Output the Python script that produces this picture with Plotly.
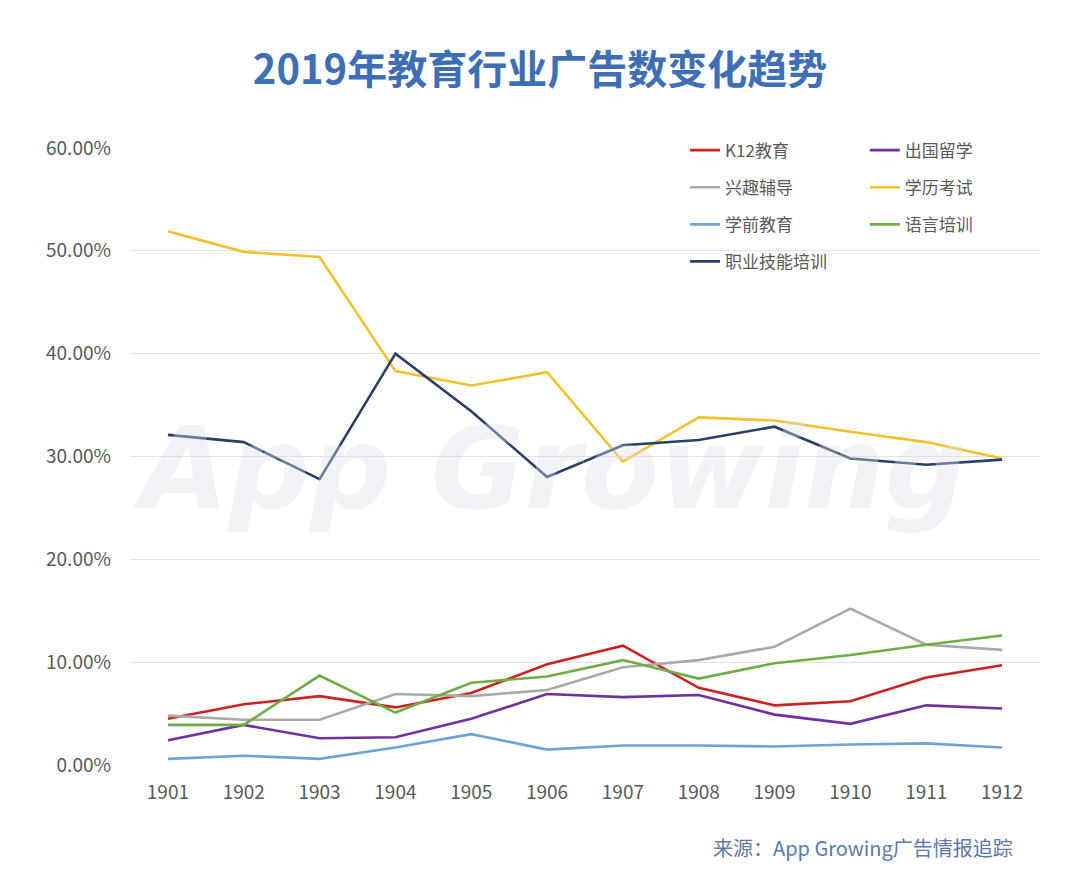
import plotly.graph_objects as go

# ---- data (percent of ads) ----
months = ["1901", "1902", "1903", "1904", "1905", "1906",
          "1907", "1908", "1909", "1910", "1911", "1912"]

k12 = [4.5, 5.9, 6.7, 5.6, 7.0, 9.8, 11.6, 7.5, 5.8, 6.2, 8.5, 9.7]
abroad = [2.4, 3.9, 2.6, 2.7, 4.5, 6.9, 6.6, 6.8, 4.9, 4.0, 5.8, 5.5]
hobby = [4.8, 4.4, 4.4, 6.9, 6.7, 7.3, 9.5, 10.2, 11.5, 15.2, 11.7, 11.2]
degree = [51.9, 49.9, 49.4, 38.3, 36.9, 38.2, 29.5, 33.8, 33.5, 32.4, 31.4, 29.8]
preschool = [0.6, 0.9, 0.6, 1.7, 3.0, 1.5, 1.9, 1.9, 1.8, 2.0, 2.1, 1.7]
language = [3.9, 3.9, 8.7, 5.1, 8.0, 8.6, 10.2, 8.4, 9.9, 10.7, 11.7, 12.6]
vocational = [32.1, 31.4, 27.8, 40.0, 34.4, 28.0, 31.1, 31.6, 32.9, 29.8, 29.2, 29.7]

y_ticks = [0, 10, 20, 30, 40, 50, 60]
y_tick_text = ["0.00%", "10.00%", "20.00%", "30.00%", "40.00%", "50.00%", "60.00%"]

# name, values, colour, legend column
series = [
    ("K12教育", k12, "#cc2322", "legend"),
    ("出国留学", abroad, "#7030a0", "legend2"),
    ("兴趣辅导", hobby, "#a9a9a9", "legend"),
    ("学历考试", degree, "#f2c12e", "legend2"),
    ("学前教育", preschool, "#6fa3d2", "legend"),
    ("语言培训", language, "#70ad47", "legend2"),
    ("职业技能培训", vocational, "#2a3f63", "legend"),
]

FONT = "Noto Sans CJK SC"

fig = go.Figure()
for i, (name, vals, color, leg) in enumerate(series):
    fig.add_trace(go.Scatter(
        x=months, y=vals, name=name, mode="lines",
        line=dict(color=color, width=2.6),
        legend=leg, legendgroup=f"g{i}",
        hovertemplate="%{x}: %{y:.2f}%<extra>" + name + "</extra>",
    ))

legend_style = dict(
    font=dict(family=FONT, size=17, color="#595959"),
    bgcolor="rgba(0,0,0,0)", tracegroupgap=12,
    xanchor="left", yanchor="top", y=1.025,
    itemwidth=30,
)

# page body adds an 8px margin, so the figure is 16px smaller than the window
fig.update_layout(
    width=1064, height=879,
    margin=dict(l=122, r=32, t=140, b=122),
    paper_bgcolor="white", plot_bgcolor="white",
    font=dict(family=FONT, color="#595959"),
    title=dict(
        text="2019年教育行业广告数变化趋势",
        x=0.5, xanchor="center", y=0.929, yanchor="middle",
        font=dict(family=FONT, size=40, color="#3e6fb5", weight="bold"),
    ),
    showlegend=True,
    legend=dict(x=0.61, **legend_style),
    legend2=dict(x=0.8075, **legend_style),
    xaxis=dict(
        type="category", range=[-0.5, 11.5],
        showgrid=False, zeroline=False, showline=False,
        ticks="", tickfont=dict(family=FONT, size=19, color="#595959"),
        ticklabelstandoff=14,
    ),
    yaxis=dict(
        range=[0, 60], tickvals=y_ticks, ticktext=y_tick_text,
        showgrid=True, gridcolor="#e3e3e3", gridwidth=1,
        zeroline=False, showline=False, ticks="",
        tickfont=dict(family=FONT, size=19, color="#595959"),
        ticklabelstandoff=18,
    ),
    annotations=[
        # faint watermark
        dict(text="<i><b>App Growing</b></i>", xref="paper", yref="paper",
             x=0.46, y=0.48, xanchor="center", yanchor="middle",
             showarrow=False,
             font=dict(family="DejaVu Sans", size=114,
                       color="rgba(218,223,233,0.38)")),
        dict(text="来源：App Growing广告情报追踪", xref="paper", yref="paper",
             x=0.9725, y=-0.133, xanchor="right", yanchor="middle",
             showarrow=False,
             font=dict(family=FONT, size=20, color="#5b7aa6")),
    ],
)

fig.write_html("out.html")
